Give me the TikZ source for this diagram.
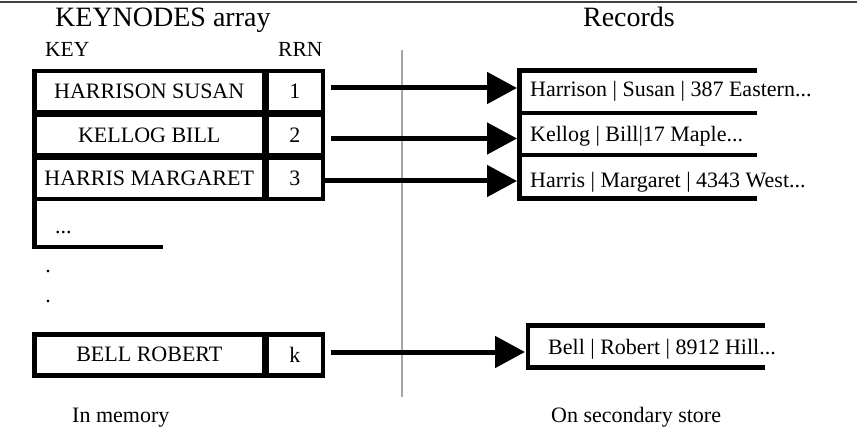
\documentclass[tikz,border=0pt]{standalone}
\usepackage{fontspec}
\setmainfont{Liberation Serif}
\usetikzlibrary{arrows.meta}
\definecolor{divgray}{RGB}{165,165,165}
\definecolor{topline}{RGB}{64,64,64}
\begin{document}
\begin{tikzpicture}[x=1pt,y=-1pt,
  cell/.style={draw,line width=4.5pt,minimum height=41pt,inner sep=0pt,font=\fontsize{22}{26}\selectfont},
  keycell/.style={cell,minimum width=229.5pt},
  rrncell/.style={cell,minimum width=56.5pt},
  txt/.style={font=\fontsize{22}{26}\selectfont,inner sep=0pt},
  head/.style={font=\fontsize{28}{32}\selectfont,inner sep=0pt},
  colhead/.style={font=\fontsize{21.5}{25}\selectfont,inner sep=0pt},
  bar/.style={line width=4.5pt},
  arr/.style={line width=5pt,-{Triangle[length=30pt,width=31pt]}},
]
\useasboundingbox (0,0) rectangle (857,433);
\draw[line width=2pt,topline] (0,2) -- (857,2);

% headings
\node[head,anchor=base west] (title) at (55,27) {KEYNODES array};
\node[colhead,anchor=base west] (keyh) at (45,57) {KEY};
\node[colhead,anchor=base west] (rrnh) at (278,57) {RRN};
\node[head,anchor=base] (rech) at (629,27) {Records};

% divider
\draw[line width=1.5pt,divgray] (402,50) -- (402,397);

% index rows
\node[keycell] (k1) at (149.25,91.5) {HARRISON SUSAN};
\node[rrncell] (r1) at (294.75,91.5) {1};
\node[keycell] (k2) at (149.25,135) {KELLOG BILL};
\node[rrncell] (r2) at (294.75,135) {2};
\node[keycell] (k3) at (149.25,178.5) {HARRIS MARGARET};
\node[rrncell] (r3) at (294.75,178.5) {3};
\draw[bar] (34.5,199) -- (34.5,247) -- (163,247);
\node[txt,anchor=base west] (ell) at (55,233) {...};
\node[txt,anchor=base] (dot1) at (48,272) {.};
\node[txt,anchor=base] (dot2) at (48,302) {.};
\node[keycell] (k4) at (149.25,354.75) {BELL ROBERT};
\node[rrncell] (r4) at (294.75,354.75) {k};

% records
\draw[bar] (757,70.5) -- (519.5,70.5) -- (519.5,198.5) -- (757,198.5);
\draw[bar] (519.5,113) -- (757,113);
\draw[bar] (519.5,155) -- (757,155);
\draw[bar] (765,325.5) -- (528,325.5) -- (528,367.5) -- (765,367.5);
\node[txt,anchor=base west] (rec1) at (530,97) {Harrison | Susan | 387 Eastern...};
\node[txt,anchor=base west] (rec2) at (530,142) {Kellog | Bill|17 Maple...};
\node[txt,anchor=base west] (rec3) at (530,187) {Harris | Margaret | 4343 West...};
\node[txt,anchor=base west] (rec4) at (548,354) {Bell | Robert | 8912 Hill...};

% arrows
\coordinate (t1) at (517,88);
\coordinate (t2) at (517,138.5);
\coordinate (t3) at (517,181);
\coordinate (t4) at (525,352);
\draw[arr] ([xshift=6pt]r1.east |- t1) -- (t1);
\draw[arr] ([xshift=6pt]r2.east |- t2) -- (t2);
\draw[arr] (r3.east |- t3) -- (t3);
\draw[arr] ([xshift=6pt]r4.east |- t4) -- (t4);

% footers
\node[txt,anchor=base west] (mem) at (72,422) {In memory};
\node[txt,anchor=base west] (sec) at (551,422) {On secondary store};
\end{tikzpicture}
\end{document}
